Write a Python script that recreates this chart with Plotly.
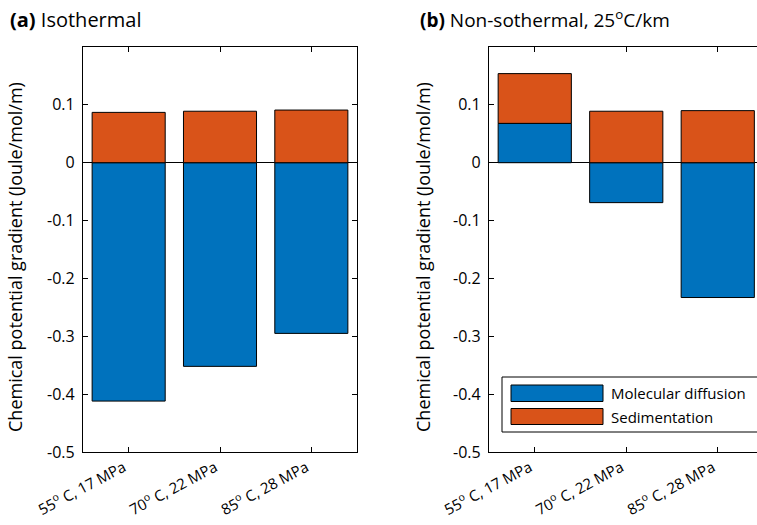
import plotly.graph_objects as go

categories = ["55<sup>o</sup> C, 17 MPa", "70<sup>o</sup> C, 22 MPa", "85<sup>o</sup> C, 28 MPa"]
xpos = [1, 2, 3]
iso_molecular = [-0.412, -0.352, -0.295]
iso_sediment = [0.087, 0.089, 0.091]
non_molecular = [0.068, -0.069, -0.233]
non_sediment = [0.086, 0.089, 0.090]
ytick_vals = [-0.5, -0.4, -0.3, -0.2, -0.1, 0, 0.1]
ytick_text = ["-0.5", "-0.4", "-0.3", "-0.2", "-0.1", "0", "0.1"]
series_names = ["Molecular diffusion", "Sedimentation"]
ytitle = "Chemical potential gradient (Joule/mol/m)"

BLUE = "#0072BD"
ORANGE = "#D95319"
FONT = "Open Sans"
W, H = 757, 525

fig = go.Figure()
for (mol, sed, xa, ya) in [(iso_molecular, iso_sediment, "x", "y"),
                           (non_molecular, non_sediment, "x2", "y2")]:
    fig.add_trace(go.Bar(x=xpos, y=mol, name=series_names[0], marker=dict(color=BLUE, line=dict(color="black", width=1)),
                         width=0.8, xaxis=xa, yaxis=ya, showlegend=False))
    fig.add_trace(go.Bar(x=xpos, y=sed, name=series_names[1], marker=dict(color=ORANGE, line=dict(color="black", width=1)),
                         width=0.8, xaxis=xa, yaxis=ya, showlegend=False))

def px_x(p):
    return p / W

def px_y(p):
    return 1 - p / H

ydom = [px_y(452), px_y(47)]
xaxis_common = dict(tickmode="array", tickvals=xpos, ticktext=categories, tickangle=-28,
                    ticks="inside", ticklen=5, tickcolor="black", showline=True, linecolor="black",
                    linewidth=1.2, showgrid=False, zeroline=False, automargin=False, ticklabelshift=-5,
                    tickfont=dict(family=FONT, size=15, color="black"))
yaxis_common = dict(range=[-0.5, 0.2], tickmode="array", tickvals=ytick_vals, ticktext=ytick_text,
                    ticks="inside", ticklen=5, tickcolor="black", showline=True, linecolor="black",
                    linewidth=1.2, showgrid=False, zeroline=True, zerolinecolor="black", zerolinewidth=1,
                    automargin=False, ticklabelstandoff=4,
                    tickfont=dict(family=FONT, size=16, color="black"), domain=ydom)

fig.update_layout(
    width=W, height=H, margin=dict(l=0, r=0, t=0, b=0),
    plot_bgcolor="white", paper_bgcolor="white", barmode="relative",
    xaxis=dict(xaxis_common, domain=[px_x(83), px_x(357)], range=[0.5, 3.5], mirror="ticks", anchor="y"),
    yaxis=dict(yaxis_common, mirror="ticks", anchor="x"),
    xaxis2=dict(xaxis_common, domain=[px_x(489), 1.0], range=[0.5, 0.5 + (757 - 489) / 91.5], mirror="ticks", anchor="y2"),
    yaxis2=dict(yaxis_common, mirror=False, anchor="x2"),
    showlegend=False,
)

# y-axis titles
for xc in (15, 423):
    fig.add_annotation(x=px_x(xc), y=px_y(257), xref="paper", yref="paper", xanchor="center", yanchor="middle",
                       text=ytitle, textangle=-90, showarrow=False, font=dict(family=FONT, size=18, color="black"))

# panel titles
fig.add_annotation(x=px_x(8), y=px_y(19), xref="paper", yref="paper", xanchor="left", yanchor="middle",
                   text="<b>(a)</b> Isothermal", showarrow=False, font=dict(family=FONT, size=20, color="black"))
fig.add_annotation(x=px_x(418), y=px_y(19), xref="paper", yref="paper", xanchor="left", yanchor="middle",
                   text="<b>(b)</b> Non-sothermal, 25<sup>o</sup>C/km", showarrow=False,
                   font=dict(family=FONT, size=19, color="black"))

# legend drawn in panel b
lx0, lx1, ly0, ly1 = 502, 760, 377, 432
fig.add_shape(type="rect", xref="paper", yref="paper", x0=px_x(lx0), x1=px_x(lx1), y0=px_y(ly1), y1=px_y(ly0),
              line=dict(color="black", width=1), fillcolor="white")
swatches = [(385, 401.5, BLUE), (408.5, 424.5, ORANGE)]
for (t, b, c), name in zip(swatches, series_names):
    fig.add_shape(type="rect", xref="paper", yref="paper", x0=px_x(511), x1=px_x(603), y0=px_y(b), y1=px_y(t),
                  line=dict(color="black", width=1), fillcolor=c)
    fig.add_annotation(x=px_x(609), y=px_y((t + b) / 2), xref="paper", yref="paper", xanchor="left",
                       yanchor="middle", text=name, showarrow=False, font=dict(family=FONT, size=15, color="black"))

fig.write_html("out.html")
